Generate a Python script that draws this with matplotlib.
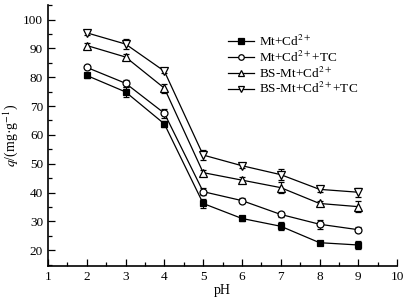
import numpy as np
import matplotlib
matplotlib.use('Agg')
import matplotlib.pyplot as plt
from matplotlib.ticker import MultipleLocator

plt.rcParams['font.family'] = ['Liberation Serif', 'DejaVu Serif']
plt.rcParams['mathtext.fontset'] = 'stix'

ph = [2, 3, 4, 5, 6, 7, 8, 9]
labels = ['Mt+Cd$^{2+}$', 'Mt+Cd$^{2+}$+TC', 'BS-Mt+Cd$^{2+}$', 'BS-Mt+Cd$^{2+}$+TC']
mt_cd = [80.6, 74.9, 63.8, 36.2, 31.0, 28.3, 22.6, 21.8]
mt_cd_tc = [83.4, 77.9, 67.5, 40.3, 37.2, 32.4, 29.0, 27.1]
bs_cd = [91.0, 87.0, 76.2, 46.9, 44.3, 41.7, 36.2, 35.1]
bs_cd_tc = [95.4, 91.5, 82.1, 53.0, 49.3, 46.2, 41.1, 40.1]
err_mt_cd = [0.8, 1.8, 1.0, 1.6, 0.8, 1.4, 0.6, 1.4]
err_mt_cd_tc = [0.6, 1.2, 1.6, 1.2, 1.0, 1.0, 1.6, 0.8]
err_bs_cd = [0.8, 1.0, 1.6, 1.0, 1.0, 2.0, 1.0, 1.8]
err_bs_cd_tc = [0.6, 1.8, 0.8, 1.6, 0.8, 2.0, 0.8, 1.6]

series = [mt_cd, mt_cd_tc, bs_cd, bs_cd_tc]
errs = [err_mt_cd, err_mt_cd_tc, err_bs_cd, err_bs_cd_tc]
markers = ['s', 'o', '^', 'v']
sizes = [5, 5, 5.5, 5.5]
faces = ['black', 'white', 'white', 'white']

fig = plt.figure(figsize=(4.05, 3.03), dpi=100)
ax = fig.add_axes([0.1185, 0.122, 0.862, 0.861])

lines = []
for y, e, m, s, fc, lab in zip(series, errs, markers, sizes, faces, labels):
    c = ax.errorbar(ph, y, yerr=e, color='black', lw=0.9, marker=m, ms=s,
                    mfc=fc, mec='black', mew=0.9, capsize=2.5, elinewidth=0.8,
                    label=lab)
    lines.append(c[0])

ax.set_xlim(1, 10)
ax.set_ylim(14.5, 105)
ax.xaxis.set_major_locator(MultipleLocator(1))
ax.xaxis.set_minor_locator(MultipleLocator(0.5))
ax.yaxis.set_minor_locator(MultipleLocator(5))
ax.set_yticks(range(20, 101, 10))
ax.tick_params(which='both', direction='in', labelsize=9.5, width=0.9)
ax.tick_params(which='major', length=5)
ax.tick_params(which='minor', length=3)
ax.spines['top'].set_visible(False)
ax.spines['right'].set_visible(False)
ax.spines['left'].set_linewidth(1.2)
ax.spines['bottom'].set_linewidth(1.2)

ax.set_xlabel('pH', fontsize=10, labelpad=1)
ax.set_ylabel('$q$/(mg·g$^{-1}$)', fontsize=10, labelpad=2)

ax.legend(lines, labels, loc='upper left', bbox_to_anchor=(0.5, 0.91),
          frameon=False, fontsize=9.5, handlelength=2.0, handletextpad=0.4,
          labelspacing=0.05, borderaxespad=0, markerscale=0.8)

fig.savefig('out.png', dpi=100)
